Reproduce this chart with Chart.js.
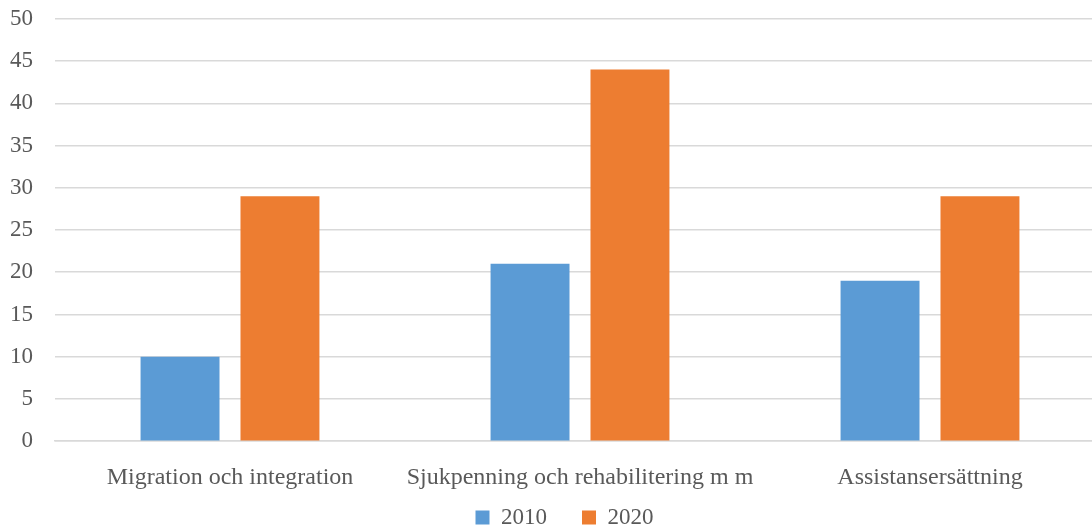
<!DOCTYPE html>
<html>
<head>
<meta charset="utf-8">
<script src="https://cdn.jsdelivr.net/npm/chart.js@4/dist/chart.umd.min.js"></script>
<style>
    html, body { margin: 0; padding: 0; background: #fff; overflow: hidden; }
    #wrap { width: 1117px; height: 591px; margin-left: -12px; margin-top: -17px; }
</style>
</head>
<body>
<div id="wrap"><canvas id="barChart"></canvas></div>
<script>
    var categories = ["Migration och integration", "Sjukpenning och rehabilitering m m", "Assistansersättning"];
    var values2010 = [10, 21, 19];
    var values2020 = [29, 44, 29];
    var seriesLabels = ["2010", "2020"];

    var textColor = "#595959";
    var gridColor = "#d9d9d9";

    Chart.defaults.font.family = "'Liberation Serif', 'Times New Roman', serif";
    Chart.defaults.font.size = 23;
    Chart.defaults.color = textColor;

    // original legend sits tighter under the axis labels and a bit right of centre
    var legendShift = {
        id: "legendShift",
        afterLayout: function (chart) {
            var lg = chart.legend;
            lg.left += 18;
            lg.right += 18;
            lg.top -= 35;
            lg.bottom -= 35;
        }
    };

    var ctx = document.getElementById("barChart");
    var myChart = new Chart(ctx, {
        type: "bar",
        data: {
            labels: categories,
            datasets: [{
                label: seriesLabels[0],
                backgroundColor: "#5b9bd5",
                data: values2010
            }, {
                label: seriesLabels[1],
                backgroundColor: "#ed7d31",
                data: values2020
            }]
        },
        plugins: [legendShift],
        options: {
            responsive: true,
            maintainAspectRatio: false,
            animation: false,
            datasets: {
                bar: {
                    categoryPercentage: 0.571,
                    barPercentage: 0.79
                }
            },
            layout: {
                padding: 0
            },
            plugins: {
                legend: {
                    position: "bottom",
                    labels: {
                        boxWidth: 14,
                        boxHeight: 14,
                        padding: 35
                    }
                },
                tooltip: { enabled: false }
            },
            scales: {
                x: {
                    grid: { display: false },
                    border: { color: gridColor, width: 1.5 },
                    ticks: { padding: 14, maxRotation: 0, font: { size: 24 } }
                },
                y: {
                    min: 0,
                    max: 50,
                    ticks: { stepSize: 5, padding: 22 },
                    grid: { color: gridColor, lineWidth: 1.5, drawTicks: false },
                    border: { display: false }
                }
            }
        }
    });
</script>
</body>
</html>
